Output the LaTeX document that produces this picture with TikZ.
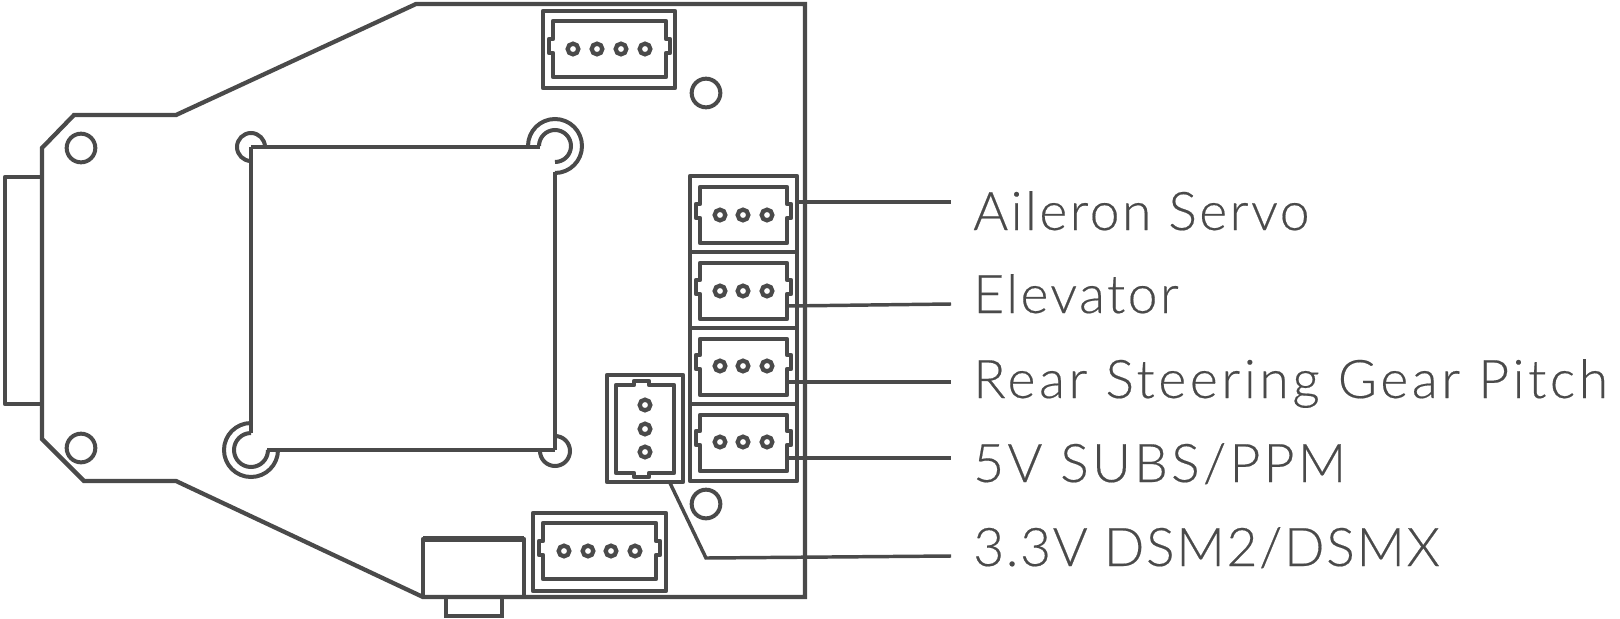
\documentclass[tikz,border=0pt]{standalone}
\usepackage{fontspec}
\setmainfont[FakeBold=0.35]{Lato Light}
\definecolor{ink}{HTML}{4A4A4A}
\tikzset{
  board line/.style={draw=ink,line width=3.2pt,line join=miter},
  heavy/.style={draw=ink,line width=3.6pt,line join=round},
  lead/.style={draw=ink,line width=2.6pt},
  arcline/.style={draw=ink,line width=3pt},
  pin/.style={circle,draw=ink,line width=3.2pt,minimum size=8pt,inner sep=0pt},
  hole/.style={circle,draw=ink,line width=3pt,minimum size=21.5pt,inner sep=0pt},
  lab/.style={anchor=base west,text=ink,font=\fontsize{40}{40}\selectfont,inner sep=0pt},
}
\newcommand{\hconn}[4]{% left,right,top,tab centre
  \draw[heavy] (#1,#3) -- (#2,#3) -- (#2,#4-7) -- (#2+4,#4-7) -- (#2+4,#4+7) -- (#2,#4+7) -- (#2,{#3+56}) -- (#1,{#3+56}) -- (#1,#4+7) -- (#1-4,#4+7) -- (#1-4,#4-7) -- (#1,#4-7) -- cycle;
}
\newcommand{\spaced}[2]{\addfontfeature{LetterSpace=#1}#2}
\begin{document}
\begin{tikzpicture}[x=0.75pt,y=-0.75pt]
\useasboundingbox (0,0) rectangle (1620,618);
% board
\draw[board line] (416,4) -- (805,4) -- (805,597) -- (423,597) -- (176,481) -- (84,481) -- (42,439) -- (42,148) -- (74,115) -- (176,115) -- cycle;
% left tab
\draw[heavy] (42,177) -- (5,177) -- (5,404) -- (42,404);
% square
\draw[board line] (251,433) -- (251,147);
\draw[board line] (555,172) -- (555,450);
\draw[heavy] (251,147) -- (540,147);
\draw[heavy] (267,450) -- (555,450);
% corner arcs
\draw[arcline] (528,146) arc[start angle=180,end angle=450,radius=27];
\draw[arcline] (539,146) arc[start angle=180,end angle=450,radius=16];
\draw[arcline] (251,423) arc[start angle=270,end angle=0,radius=27];
\draw[arcline] (251,433) arc[start angle=270,end angle=0,radius=17];
\draw[arcline] (251,161) arc[start angle=90,end angle=360,radius=14];
\draw[arcline] (555,436) arc[start angle=270,end angle=540,radius=15];
% mounting holes
\node[hole] (h1) at (81,148) {};
\node[hole] (h2) at (81,448) {};
\node[hole] (h3) at (706,93) {};
\node[hole] (h4) at (706,504) {};
% top connector
\draw[heavy] (543,11) rectangle (675,88);
\hconn{553}{666}{21}{46}
\foreach \x in {573,597,621,645} \node[pin] at (\x,49) {};
% bottom connector
\draw[heavy] (533,513) rectangle (666,591);
\hconn{543}{656}{523}{548}
\foreach \x in {564,588,611,635} \node[pin] at (\x,551) {};
\draw[draw=ink,line width=3.6pt] (545,597) -- (647,597);
% jack
\draw[draw=ink,line width=3.2pt,line join=round] (423,597) -- (423,539) -- (524,539) -- (524,597);
\draw[draw=ink,line width=3.8pt] (423,539) -- (524,539);
\draw[draw=ink,line width=3.2pt] (446,597) -- (446,616) -- (502,616) -- (502,597);
% three-pin block
\draw[heavy] (690,176) rectangle (797,481);
\draw[heavy] (690,252) -- (797,252);
\draw[heavy] (690,328) -- (797,328);
\draw[heavy] (690,404) -- (797,404);
\hconn{700}{787}{187}{211}
\hconn{700}{787}{263}{287}
\hconn{700}{787}{339}{362}
\hconn{700}{787}{415}{438}
\foreach \y in {215,291,366,442} \foreach \x in {720,743,767} \node[pin] at (\x,\y) {};
% vertical connector
\draw[heavy] (607,375) rectangle (683,482);
\draw[heavy] (616,385) -- (634,385) -- (634,381) -- (649,381) -- (649,385) -- (674,385) -- (674,473) -- (649,473) -- (649,477) -- (634,477) -- (634,473) -- (616,473) -- cycle;
\foreach \y in {405,429,452} \node[pin] at (645,\y) {};
% labels
\node[lab] (t1) at (973,230) {\spaced{4.8}{Aileron Servo}};
\node[lab] (t2) at (973,313) {\spaced{4.6}{Elevator}};
\node[lab] (t3) at (973,398) {\spaced{6.85}{Rear Steering Gear Pitch}};
\node[lab] (t4) at (973,482) {\spaced{6.2}{5V SUBS/PPM}};
\node[lab] (t5) at (973,566) {\spaced{3.2}{3.3V DSM2/DSMX}};
% leads
\coordinate (a1) at (797,202); \coordinate (b1) at (951,202);
\coordinate (a2) at (787,306); \coordinate (b2) at (951,304);
\coordinate (a3) at (787,382); \coordinate (b3) at (951,382);
\coordinate (a4) at (787,458); \coordinate (b4) at (951,458);
\coordinate (a5) at (670,483); \coordinate (m5) at (706,558); \coordinate (b5) at (951,556);
\draw[lead] (a1) -- (b1);
\draw[lead] (a2) -- (b2);
\draw[lead] (a3) -- (b3);
\draw[lead] (a4) -- (b4);
\draw[lead] (a5) -- (m5) -- (b5);
\end{tikzpicture}
\end{document}
